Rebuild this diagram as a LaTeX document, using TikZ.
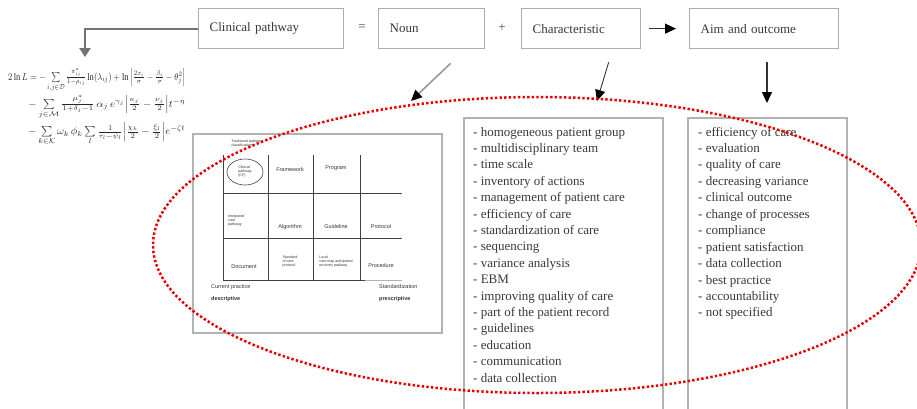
\documentclass[tikz,border=0pt]{standalone}
\usepackage{amsmath}
\usepackage{graphicx}
\usepackage{fontspec}
\setmainfont{Liberation Serif}
\newfontfamily\tinysans{Liberation Sans}
\usetikzlibrary{arrows.meta,calc}
\definecolor{dotred}{RGB}{232,0,0}
\begin{document}
\begin{tikzpicture}[x=1pt,y=-1pt,
  topbox/.style={draw=black!32, line width=1.3pt, minimum height=40pt, inner xsep=11pt,
    anchor=north west, align=left, text=black!78, font=\fontsize{13}{15}\selectfont},
  optext/.style={text=black!70, font=\fontsize{13}{15}\selectfont, inner sep=0pt},
  listbox/.style={draw=black!30, line width=1.5pt, anchor=north west, inner sep=0pt},
  item/.style={anchor=base west, inner sep=0pt, text=black!78, font=\fontsize{13}{15}\selectfont},
  darrow/.style={line width=1.2pt, draw=black!80, -{Triangle[length=11pt,width=10pt,color=black]}},
  garrow/.style={line width=1.6pt, draw=black!40, -{Triangle[length=11pt,width=10pt,color=black]}},
  fline/.style={anchor=west, inner sep=0pt, text=black!85},
  tablerule/.style={line width=0.7pt, draw=black!75},
  cell/.style={inner sep=0pt, text=black!80, font=\tinysans\fontsize{5.5}{6}\selectfont, align=center},
  tinycell/.style={inner sep=0pt, text=black!80, font=\tinysans\fontsize{3.6}{4}\selectfont, align=left},
  reddots/.style={draw=dotred, line width=2.5pt, dash pattern=on 2.4pt off 2.2pt}
]
\useasboundingbox (0,0) rectangle (917,408);

% top row
\node[topbox, text width=123pt] (cp) at (198,8) {Clinical pathway};
\node[optext] (eqsign) at (362,28) {=};
\node[topbox, text width=84pt] (noun) at (378,8) {Noun};
\node[optext] (plussign) at (502,28) {+};
\node[topbox, text width=97pt] (char) at (521,8) {Characteristic};
\node[topbox, text width=127pt] (aim) at (689,8) {Aim and outcome};

\draw[darrow] ([xshift=8pt]char.east) -- ([xshift=-13pt]aim.west);

% formula
\coordinate (mathtop) at (85,57);
\draw[line width=2.2pt, draw=black!55, -{Triangle[length=9pt,width=11pt]}] (cp.west) -| (mathtop);
\node[fline] (f1) at (8,80) {\resizebox*{177pt}{23pt}{$\textstyle 2\ln L = -\sum\limits_{i,j\in\mathcal{D}} \frac{\pi^{a}_{ij}}{1-\rho_{ij}}\ln(\lambda_{ij})+\ln\Big|\frac{2x_i}{\sigma}-\frac{\beta_i}{\sigma}-\theta_j^{2}\Big|$}};
\node[fline] (f2) at (28,107) {\resizebox*{157pt}{23pt}{$\textstyle -\sum\limits_{j\in\mathcal{M}}\frac{\mu^{a}_{j}}{1+\delta_j-1}\,\alpha_j\,e^{\gamma_j}\Big|\frac{\kappa_j}{2}-\frac{\nu_j}{2}\Big|t^{-\eta}$}};
\node[fline] (f3) at (28,134) {\resizebox*{157pt}{23pt}{$\textstyle -\sum\limits_{k\in\mathcal{K}}\omega_k\,\phi_k\sum\limits_{l}\frac{1}{\tau_l-\psi_l}\Big|\frac{\chi_k}{2}-\frac{\xi_l}{2}\Big|e^{-\zeta t}$}};

% arrows down
\coordinate (nountail) at ($(noun.south)+(19,14)$);
\coordinate (nounhead) at (411,101);
\draw[garrow] (nountail) -- (nounhead);
\coordinate (chartail) at ($(char.south)+(27.5,13)$);
\coordinate (charhead) at (597,101);
\draw[darrow, line width=0.9pt] (chartail) -- (charhead);
\coordinate (aimtail) at (767,62);
\coordinate (aimhead) at (767,103);
\draw[darrow] (aimtail) -- (aimhead);

% picture box
\node[listbox, minimum width=249pt, minimum height=199pt] (pic) at (192,133) {};
\node[tinycell] (pichead) at (247,143) {Traditional pathway\\classification};
\foreach \xx in {223,268,313,360} \draw[tablerule] (\xx,155) -- (\xx,280);
\draw[tablerule] (223,193) -- (402,193);
\draw[tablerule] (223,238) -- (402,238);
\draw[tablerule] (223,280) -- (365,280);
\draw[tablerule, draw=black!30] (365,280) -- (402,280);
\draw[line width=0.6pt, draw=black!75] (245,172) ellipse [x radius=18pt, y radius=13pt];
\node[tinycell] (c11) at (245,172) {Clinical\\pathway\\(CP)};
\node[cell] (c12) at (290,170) {Framework};
\node[cell] (c13) at (336,168) {Program};
\node[tinycell, anchor=west] (c21) at (228,221) {Integrated\\care\\pathway};
\node[cell] (c22) at (290,227) {Algorithm};
\node[cell] (c23) at (336,227) {Guideline};
\node[cell] (c24) at (381,227) {Protocol};
\node[cell] (c31) at (244,267) {Document};
\node[tinycell] (c32) at (290,262) {Standard\\of care\\protocol};
\node[tinycell] (c33) at (336,262) {Local\\care map anticipated\\recovery pathway};
\node[cell] (c34) at (381,266) {Procedure};
\node[cell, anchor=west] (lp1) at (211,287) {Current practice};
\node[cell, anchor=west, font=\tinysans\bfseries\fontsize{5.5}{6}\selectfont] (lp2) at (211,299) {descriptive};
\node[cell, anchor=west] (rp1) at (379,287) {Standardization};
\node[cell, anchor=west, font=\tinysans\bfseries\fontsize{5.5}{6}\selectfont] (rp2) at (379,299) {prescriptive};

% characteristic list
\node[listbox, minimum width=199pt, minimum height=310pt] (charbox) at (463,117) {};
\foreach \t [count=\i] in {homogeneous patient group, multidisciplinary team, time scale,
  inventory of actions, management of patient care, efficiency of care,
  standardization of care, sequencing, variance analysis, EBM,
  improving quality of care, part of the patient record, guidelines,
  education, communication, data collection}
  \node[item] (ch\i) at (473,{136+16.4*(\i-1)}) {- \t};

% aim list
\node[listbox, minimum width=159pt, minimum height=310pt] (aimbox) at (687,117) {};
\foreach \t [count=\i] in {efficiency of care, evaluation, quality of care,
  decreasing variance, clinical outcome, change of processes, compliance,
  patient satisfaction, data collection, best practice, accountability, not specified}
  \node[item] (am\i) at (698,{136+16.45*(\i-1)}) {- \t};

% red dotted ellipse
\draw[reddots] (537,245) ellipse [x radius=384pt, y radius=148pt];
\end{tikzpicture}
\end{document}
